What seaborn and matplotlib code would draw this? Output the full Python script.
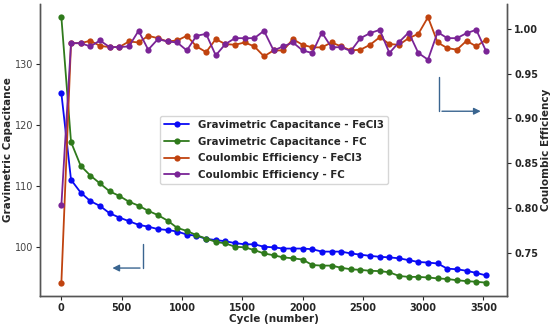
import numpy as np
import pandas as pd
import matplotlib
matplotlib.use("Agg")
import matplotlib.pyplot as plt
import seaborn as sns

# cycles sampled every 80
cycles = list(range(0, 3521, 80))

cap_fecl3 = [125.2, 111.0, 108.9, 107.5, 106.7, 105.5, 104.8, 104.2, 103.6, 103.3,
             102.9, 102.75, 102.5, 102.0, 101.8, 101.3, 101.1, 100.9, 100.6, 100.4,
             100.4, 100.0, 99.9, 99.7, 99.7, 99.7, 99.6, 99.2, 99.2, 99.2,
             98.9, 98.7, 98.5, 98.35, 98.25, 98.1, 97.8, 97.5, 97.4, 97.25,
             96.4, 96.3, 96.05, 95.7, 95.3]
cap_fc = [137.7, 117.2, 113.3, 111.7, 110.4, 109.1, 108.35, 107.4, 106.75, 105.9,
          105.2, 104.3, 103.1, 102.6, 101.9, 101.35, 100.8, 100.55, 100.0, 99.9,
          99.45, 98.9, 98.6, 98.25, 98.1, 97.9, 97.0, 96.9, 96.9, 96.55,
          96.3, 96.2, 96.05, 96.0, 95.8, 95.2, 95.05, 95.05, 94.95, 94.8,
          94.7, 94.5, 94.35, 94.25, 94.1]
ce_fecl3 = [0.7166, 0.984, 0.984, 0.9867, 0.981, 0.9796, 0.9796, 0.9859, 0.9848, 0.9922,
            0.9896, 0.9859, 0.987, 0.9922, 0.9804, 0.974, 0.9885, 0.983, 0.9822, 0.9848,
            0.9804, 0.9693, 0.9759, 0.9759, 0.9885, 0.9822, 0.9793, 0.9793, 0.9848, 0.9804,
            0.9759, 0.9767, 0.9822, 0.9907, 0.983, 0.9822, 0.9896, 0.9944, 1.013, 0.9848,
            0.9785, 0.9767, 0.9867, 0.9804, 0.9878]
ce_fc = [0.803, 0.984, 0.984, 0.9804, 0.987, 0.9796, 0.9796, 0.9804, 0.9978, 0.9767,
         0.9885, 0.9859, 0.9848, 0.9759, 0.9922, 0.9944, 0.9704, 0.983, 0.9896, 0.9896,
         0.9896, 0.9978, 0.9759, 0.9804, 0.9848, 0.9759, 0.973, 0.9959, 0.9793, 0.9796,
         0.9752, 0.9896, 0.9952, 0.9989, 0.973, 0.9852, 0.9959, 0.973, 0.9656, 0.9963,
         0.9896, 0.9896, 0.9952, 0.9989, 0.9756]

colors = {"Gravimetric Capacitance - FeCl3": "#0a0af5",
          "Gravimetric Capacitance - FC": "#2f7a1c",
          "Coulombic Efficiency - FeCl3": "#c0430f",
          "Coulombic Efficiency - FC": "#7a2496"}

sns.set_style("ticks")
plt.rcParams["font.family"] = ["DejaVu Sans"]

fig, ax = plt.subplots(figsize=(5.5, 3.27), dpi=100)
fig.subplots_adjust(left=0.073, right=0.922, top=0.988, bottom=0.095)
ax2 = ax.twinx()

kw = dict(marker="o", markersize=4.5, markeredgewidth=0, linewidth=1.3)
sns.lineplot(x=cycles, y=cap_fecl3, ax=ax, color=colors["Gravimetric Capacitance - FeCl3"],
             label="Gravimetric Capacitance - FeCl3", legend=False, **kw)
sns.lineplot(x=cycles, y=cap_fc, ax=ax, color=colors["Gravimetric Capacitance - FC"],
             label="Gravimetric Capacitance - FC", legend=False, **kw)
sns.lineplot(x=cycles, y=ce_fecl3, ax=ax2, color=colors["Coulombic Efficiency - FeCl3"],
             label="Coulombic Efficiency - FeCl3", legend=False, **kw)
sns.lineplot(x=cycles, y=ce_fc, ax=ax2, color=colors["Coulombic Efficiency - FC"],
             label="Coulombic Efficiency - FC", legend=False, **kw)

ax.set_xlabel("Cycle (number)", fontsize=7.5, fontweight="bold", labelpad=1)
ax.set_ylabel("Gravimetric Capacitance", fontsize=7.5, fontweight="bold", labelpad=1)
ax2.set_ylabel("Coulombic Efficiency", fontsize=7.5, fontweight="bold", labelpad=2)

ax.set_xticks([0, 500, 1000, 1500, 2000, 2500, 3000, 3500])
ax.set_yticks([100, 110, 120, 130])
ax2.set_yticks([0.75, 0.80, 0.85, 0.90, 0.95, 1.00])
ax2.set_yticklabels([f"{v:.2f}" for v in ax2.get_yticks()])

ax.tick_params(axis="x", labelsize=7, length=3, pad=2)
ax.tick_params(axis="y", labelsize=7, length=3, pad=2, labelcolor="#444444")
ax2.tick_params(axis="y", labelsize=7, length=3, pad=2)
for lab in ax.get_xticklabels() + ax2.get_yticklabels():
    lab.set_fontweight("bold")

for a in (ax, ax2):
    a.spines["top"].set_visible(False)
    for s in a.spines.values():
        s.set_color("#555555")
        s.set_linewidth(1.0)

# arrows pointing to each curve's axis
arrow_col = "#3a6590"
ax.plot([675, 675], [100.4, 96.5], color=arrow_col, lw=1)
ax.annotate("", xy=(400, 96.5), xytext=(675, 96.5),
            arrowprops=dict(arrowstyle="-|>", color=arrow_col, lw=1, mutation_scale=10))
ax2.plot([3133, 3133], [0.946, 0.908], color=arrow_col, lw=1)
ax2.annotate("", xy=(3500, 0.908), xytext=(3133, 0.908),
             arrowprops=dict(arrowstyle="-|>", color=arrow_col, lw=1, mutation_scale=10))

h1, l1 = ax.get_legend_handles_labels()
h2, l2 = ax2.get_legend_handles_labels()
leg = ax2.legend(h1 + h2, l1 + l2, loc="center", bbox_to_anchor=(0.5, 0.5),
                 prop={"weight": "bold", "size": 7.4}, frameon=True, handlelength=2.5,
                 labelspacing=0.65)
leg.get_frame().set_edgecolor("#cccccc")

fig.savefig("out.png", dpi=100)
